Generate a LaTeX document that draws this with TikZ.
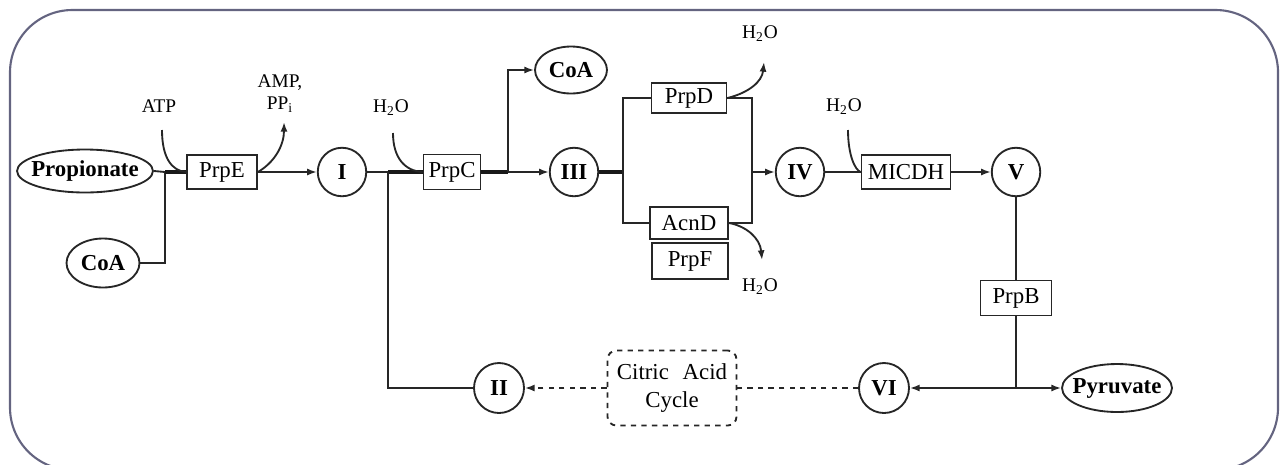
\documentclass[tikz,border=0pt]{standalone}
\usepackage{fontspec}
\setmainfont{Liberation Serif}
\usetikzlibrary{shapes.geometric,arrows.meta}
\begin{document}
\begin{tikzpicture}[x=0.02cm,y=-0.02cm,
  ln/.style={line width=1.05pt, draw=black!85},
  thk/.style={line width=2pt, draw=black!90},
  arr/.style={-{Latex[length=5.5pt,width=4pt]}},
  enz/.style={draw=black!85, line width=1.05pt, rectangle, inner sep=0pt, font=\fontsize{13}{15}\selectfont},
  met/.style={draw=black!85, line width=1.05pt, circle, inner sep=0pt, minimum size=0.97cm, font=\fontsize{13}{15}\selectfont\bfseries},
  sub/.style={draw=black!85, line width=1.05pt, ellipse, inner sep=0pt, font=\fontsize{13}{15}\selectfont\bfseries},
  lab/.style={inner sep=0pt, font=\fontsize{11}{12}\selectfont, align=center},
]
\fill[white] (0,0) rectangle (1283,464);
\useasboundingbox (0,0) rectangle (1283,464);
\begin{scope}
\clip (0,0) rectangle (1283,464);
\draw[line width=1.2pt, draw={rgb,255:red,100;green,100;blue,128}, rounded corners=1.25cm] (10,10) rectangle (1278,470);
\end{scope}

% nodes
\node[sub, minimum width=2.72cm, minimum height=0.86cm] (prop) at (85,171) {\makebox[0pt]{Propionate}};
\node[sub, minimum width=1.46cm, minimum height=0.98cm] (coa1) at (103,263) {\makebox[0pt]{CoA}};
\node[enz, minimum width=1.4cm, minimum height=0.68cm] (prpe) at (222,172) {PrpE};
\node[met] (n1) at (342,172) {I};
\node[enz, minimum width=1.14cm, minimum height=0.7cm] (prpc) at (452,172) {PrpC};
\node[sub, minimum width=1.44cm, minimum height=0.94cm] (coa2) at (571,70) {\makebox[0pt]{CoA}};
\node[met] (n3) at (574,172) {III};
\node[enz, minimum width=1.5cm, minimum height=0.6cm] (prpd) at (689,98) {PrpD};
\node[enz, minimum width=1.56cm, minimum height=0.64cm] (acnd) at (689,223) {AcnD};
\node[enz, minimum width=1.52cm, minimum height=0.72cm] (prpf) at (690,261) {PrpF};
\node[met] (n4) at (800,172) {IV};
\node[enz, minimum width=1.78cm, minimum height=0.68cm] (micdh) at (906,172) {MICDH};
\node[met] (n5) at (1016,172) {V};
\node[enz, minimum width=1.42cm, minimum height=0.7cm] (prpb) at (1016,298) {PrpB};
\node[met, minimum size=1.0cm] (n6) at (884,388) {VI};
\node[sub, minimum width=2.2cm, minimum height=0.96cm] (pyr) at (1117,388) {\makebox[0pt]{Pyruvate}};
\node[draw=black!85, line width=1.05pt, dashed, rounded corners=5pt, minimum width=2.58cm, minimum height=1.5cm, inner sep=0pt, align=center, font=\fontsize{13}{16}\selectfont] (tca) at (672,388) {Citric\hspace{0.6em}Acid\\Cycle};
\node[met, minimum size=1.0cm] (n2) at (499,388) {II};

% small labels
\node[lab] (atp) at (159,106) {ATP};
\node[lab, font=\fontsize{11}{12.5}\selectfont] (amp) at (280,94) {AMP,\\PP\textsubscript{i}};
\node[lab] (h2oa) at (391,108) {H\textsubscript{2}O};
\node[lab] (h2ob) at (760,34) {H\textsubscript{2}O};
\node[lab] (h2oc) at (760,287) {H\textsubscript{2}O};
\node[lab] (h2od) at (844,107) {H\textsubscript{2}O};

% junction and free-end coordinates
\coordinate (j1) at (165,172);
\coordinate (j2) at (388,172);
\coordinate (j3) at (508,172);
\coordinate (j4) at (623,172);
\coordinate (j5) at (752,172);
\coordinate (j6) at (1016,388);
\coordinate (atpc) at (162,130);
\coordinate (ampc) at (284,122);
\coordinate (h2oac) at (393,133);
\coordinate (h2obc) at (764,62);
\coordinate (h2occ) at (762,260);
\coordinate (h2odc) at (848,130);

% connectors
\draw[ln] (prop.east) -- (j1);
\draw[ln] (coa1.east) -| (j1);
\draw[thk] (j1) -- (prpe.west);
\draw[ln] (atpc) .. controls (162,158) and (172,171) .. (prpe.west);
\draw[ln,arr] (prpe.east) .. controls (275,162) and (284,145) .. (ampc);
\draw[ln,arr] (prpe.east) -- (n1.west);

\draw[ln] (n1.east) -- (j2);
\draw[thk] (j2) -- (prpc.west);
\draw[ln] (j2) |- (n2.west);
\draw[ln] (h2oac) .. controls (393,158) and (405,171) .. (prpc.west);

\draw[thk] (prpc.east) -- (j3);
\draw[ln,arr] (j3) -- (n3.west);
\draw[ln,arr] (j3) |- (coa2.west);

\draw[thk] (n3.east) -- (j4);
\draw[ln] (j4) |- (prpd.west);
\draw[ln] (j4) |- (acnd.west);
\draw[ln] (prpd.east) -| (j5);
\draw[ln] (acnd.east) -| (j5);
\draw[ln,arr] (j5) -- (n4.west);
\draw[ln,arr] (prpd.east) .. controls (748,93) and (762,82) .. (h2obc);
\draw[ln,arr] (acnd.east) .. controls (746,226) and (760,238) .. (h2occ);

\draw[ln] (n4.east) -- (micdh.west);
\draw[ln] (h2odc) .. controls (848,155) and (855,170) .. (micdh.west);
\draw[ln,arr] (micdh.east) -- (n5.west);

\draw[ln] (n5.south) -- (prpb.north);
\draw[ln] (prpb.south) -- (j6);
\draw[ln,arr] (j6) -- (n6.east);
\draw[ln,arr] (j6) -- (pyr.west);

\draw[ln,dashed,arr] (tca.west) -- (n2.east);
\draw[ln,dashed] (n6.west) -- (tca.east);
\end{tikzpicture}
\end{document}
